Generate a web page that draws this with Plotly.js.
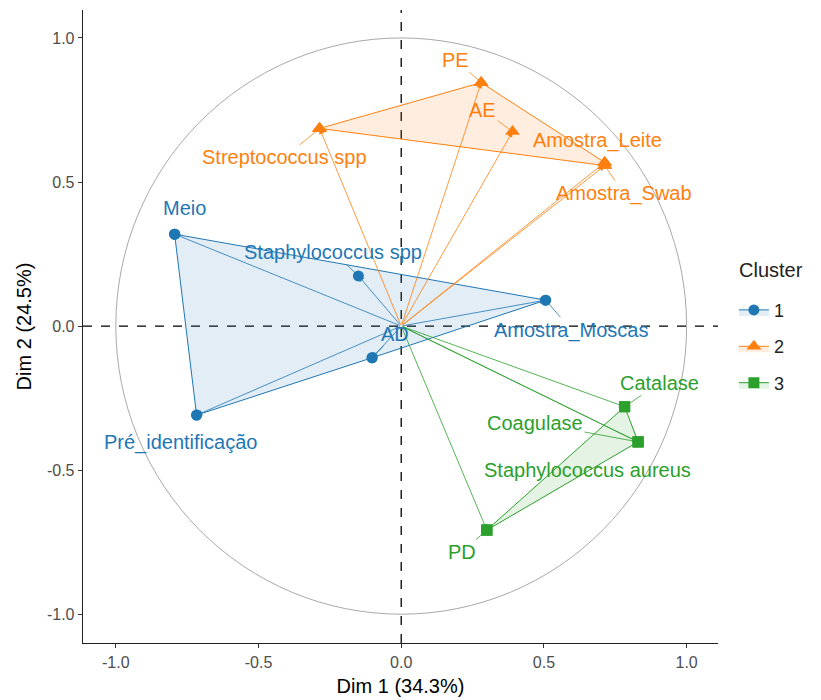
<!DOCTYPE html>
<html><head><meta charset="utf-8">
<script src="https://cdn.plot.ly/plotly-3.0.1.min.js"></script>
<style>body{margin:0;background:#fff}</style>
</head><body><div id="chart" style="width:821px;height:700px"></div>
<script>
// ---- data ----
const variables = ['Meio','Staphylococcus spp','Pré_identificação','AD','Amostra_Moscas',
  'PE','AE','Streptococcus spp','Amostra_Leite','Amostra_Swab',
  'Catalase','Coagulase','Staphylococcus aureus','PD'];
const dim1 = [-0.794,-0.150,-0.717,-0.102,0.506, 0.280,0.390,-0.286,0.713,0.713, 0.783,0.830,0.830,0.300];
const dim2 = [0.319,0.174,-0.309,-0.110,0.090, 0.845,0.675,0.686,0.568,0.557, -0.280,-0.402,-0.402,-0.708];
const cluster = [1,1,1,1,1, 2,2,2,2,2, 3,3,3,3];
const clusterLabels = ['1','2','3'];
const tickVals = [-1,-0.5,0,0.5,1];
const tickText = ['-1.0','-0.5','0.0','0.5','1.0'];
const xTitle = 'Dim 1 (34.3%)';
const yTitle = 'Dim 2 (24.5%)';
const legendTitle = 'Cluster';

// ---- styling ----
const clusterColors = ['#1F77B4','#FF7F0E','#2CA02C'];
const clusterFills = ['rgba(31,119,180,0.13)','rgba(255,127,14,0.13)','rgba(44,160,44,0.13)'];
const clusterSymbols = ['circle','triangle-up','square'];
const clusterSizes = [11,13,11];
// label offsets in pixels (repelled label placement)
const labelDx = [10,-25,-16,23,26, -26,-30,-35,-7,19, 35,-103,-51,-25];
const labelDy = [-26,-24,27,-24,30, -23,-22,29,-22,28, -24,-19,28,22];
const labelSeg = [0,1,0,1,1, 1,1,1,0,1, 1,1,0,1];

function hull(pts){
  pts = pts.slice().sort((a,b)=>a[0]-b[0]||a[1]-b[1]);
  const cross=(o,a,b)=>(a[0]-o[0])*(b[1]-o[1])-(a[1]-o[1])*(b[0]-o[0]);
  const lower=[],upper=[];
  for(const p of pts){while(lower.length>=2&&cross(lower[lower.length-2],lower[lower.length-1],p)<=0)lower.pop();lower.push(p);}
  for(let i=pts.length-1;i>=0;i--){const p=pts[i];while(upper.length>=2&&cross(upper[upper.length-2],upper[upper.length-1],p)<=0)upper.pop();upper.push(p);}
  upper.pop();lower.pop();
  return lower.concat(upper);
}

const font = 'Liberation Sans, Arial, sans-serif';
const labelSize = 20;
const traces = [];
const annotations = [];

clusterLabels.forEach((lab,ci)=>{
  const idx = cluster.map((c,i)=>c===ci+1?i:-1).filter(i=>i>=0);
  const h = hull(idx.map(i=>[dim1[i],dim2[i]]));
  h.push(h[0]);
  traces.push({
    x: h.map(p=>p[0]), y: h.map(p=>p[1]),
    type:'scatter', mode:'lines+markers', fill:'toself',
    fillcolor: clusterFills[ci],
    line:{color:clusterColors[ci], width:1},
    marker:{color:clusterColors[ci], symbol:clusterSymbols[ci], size:clusterSizes[ci]},
    name: lab, legendgroup: 'g'+lab, hoverinfo:'skip'
  });
  traces.push({
    x: idx.map(i=>dim1[i]), y: idx.map(i=>dim2[i]),
    type:'scatter', mode:'markers', showlegend:false, legendgroup: 'g'+lab,
    marker:{color:clusterColors[ci], symbol:clusterSymbols[ci], size:clusterSizes[ci]},
    text: idx.map(i=>variables[i]), hoverinfo:'text'
  });
});

// arrows from origin
variables.forEach((v,i)=>{
  const col = clusterColors[cluster[i]-1];
  annotations.push({
    x: dim1[i], y: dim2[i], ax: 0, ay: 0, xref:'x', yref:'y', axref:'x', ayref:'y',
    text:'', showarrow:true, arrowhead:2, arrowsize:1.4, arrowwidth:0.8, arrowcolor:col, standoff:0
  });
});
// labels
variables.forEach((v,i)=>{
  const col = clusterColors[cluster[i]-1];
  if(labelSeg[i]){
    annotations.push({
      x: dim1[i], y: dim2[i], xref:'x', yref:'y', ax: labelDx[i], ay: labelDy[i],
      text: v, showarrow:true, arrowhead:0, arrowwidth:0.8, arrowcolor:col, standoff:4,
      font:{family:font, size:labelSize, color:col}
    });
  } else {
    annotations.push({
      x: dim1[i], y: dim2[i], xref:'x', yref:'y', xshift: labelDx[i], yshift: -labelDy[i],
      text: v, showarrow:false, font:{family:font, size:labelSize, color:col}
    });
  }
});
// legend title
annotations.push({xref:'paper', yref:'paper', x:1.03, y:0.589, xanchor:'left', yanchor:'middle',
  text:legendTitle, showarrow:false, font:{family:font, size:20, color:'#222'}});

const layout = {
  width:821, height:700,
  margin:{l:83, r:103, t:10, b:57},
  paper_bgcolor:'#fff', plot_bgcolor:'#fff',
  font:{family:font},
  xaxis:{range:[-1.115,1.11], showgrid:false, zeroline:false, showline:true, linecolor:'#222', linewidth:1.3,
    ticks:'outside', ticklen:4, tickcolor:'#333', tickvals:tickVals, ticktext:tickText,
    tickfont:{size:16, color:'#4D4D4D'}, title:{text:xTitle, font:{size:20, color:'#000'}, standoff:9}},
  yaxis:{range:[-1.1,1.097], showgrid:false, zeroline:false, showline:true, linecolor:'#222', linewidth:1.3,
    ticks:'outside', ticklen:4, tickcolor:'#333', tickvals:tickVals, ticktext:tickText,
    tickfont:{size:16, color:'#4D4D4D'}, title:{text:yTitle, font:{size:20, color:'#000'}, standoff:10}},
  shapes:[
    {type:'circle', xref:'x', yref:'y', x0:-1, x1:1, y0:-1, y1:1, line:{color:'#A9A9A9', width:1}, layer:'below'},
    {type:'line', xref:'x', yref:'paper', x0:0, x1:0, y0:0, y1:1, line:{color:'#000', width:1.3, dash:'dash'}, layer:'below'},
    {type:'line', xref:'paper', yref:'y', x0:0, x1:1, y0:0, y1:0, line:{color:'#000', width:1.3, dash:'dash'}, layer:'below'}
  ],
  annotations: annotations,
  legend:{x:1.025, y:0.555, xanchor:'left', yanchor:'top',
    font:{size:18, color:'#222'}, itemwidth:30, tracegroupgap:10, traceorder:'grouped'},
  showlegend:true
};
Plotly.newPlot('chart', traces, layout, {displayModeBar:false, staticPlot:true});
</script></body></html>
